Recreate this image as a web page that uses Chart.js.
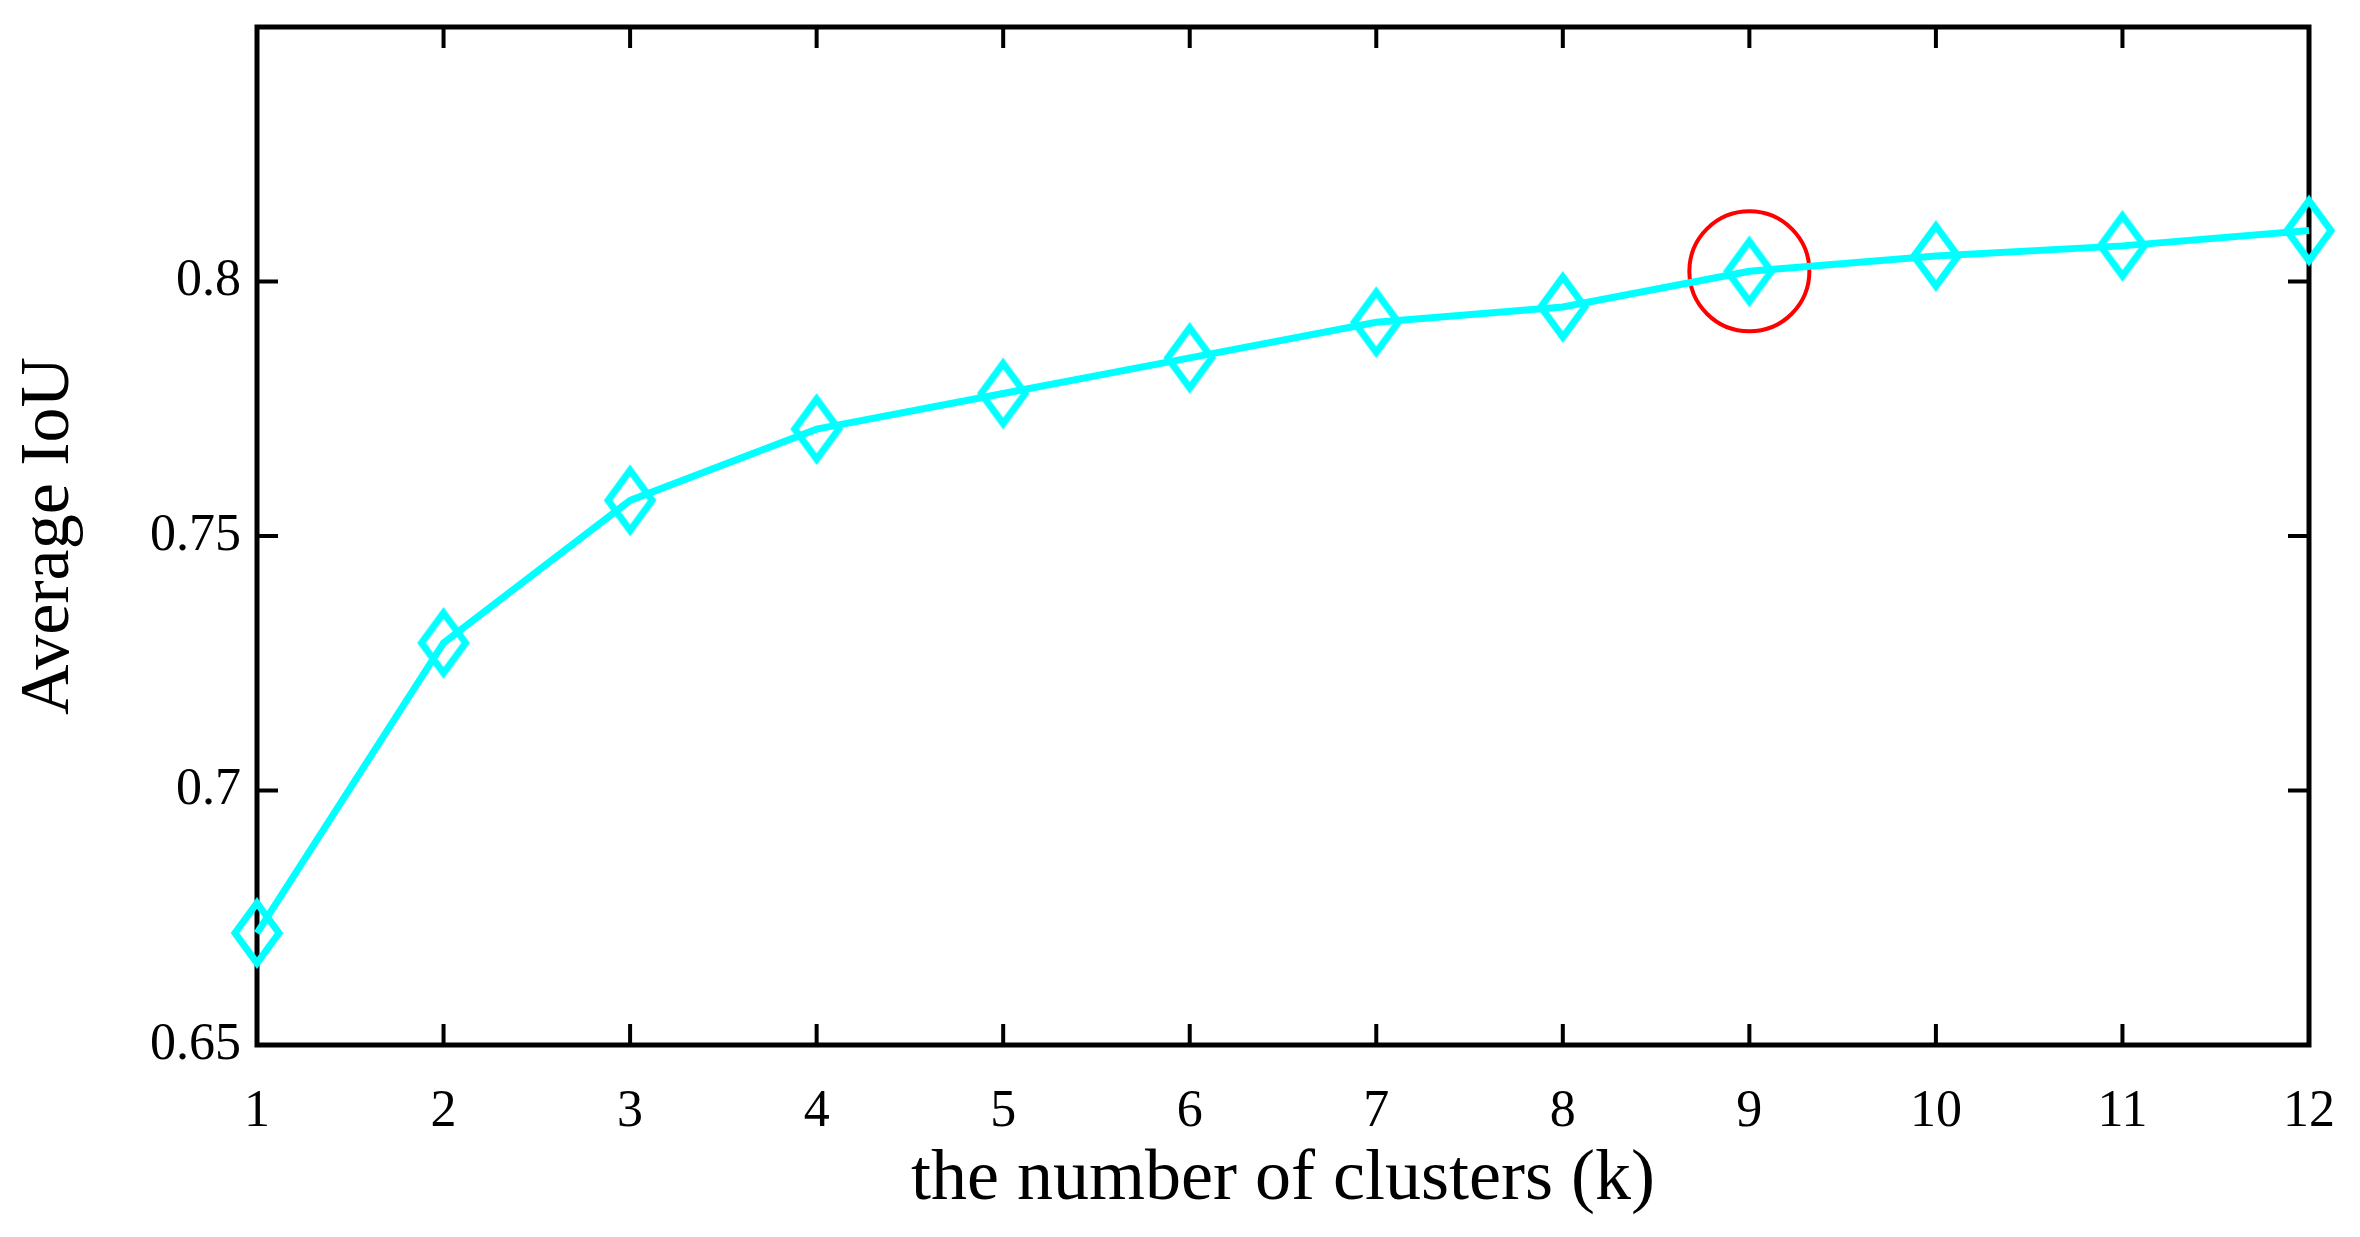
<!DOCTYPE html>
<html>
<head>
<meta charset="utf-8">
<script src="https://cdn.jsdelivr.net/npm/chart.js@4/dist/chart.umd.min.js"></script>
<style>
  html, body { margin: 0; padding: 0; background: #fff; }
  #wrap { width: 2360px; height: 1237px; }
</style>
</head>
<body>
<div id="wrap"><canvas id="chart" width="2360" height="1237"></canvas></div>
<script>
// dados
const clusters = ['1', '2', '3', '4', '5', '6', '7', '8', '9', '10', '11', '12'];
const avgIoU = [0.672, 0.729, 0.757, 0.771, 0.778, 0.785, 0.792, 0.795, 0.802, 0.805, 0.807, 0.810];
const yTicks = [0.65, 0.7, 0.75, 0.8];
const chosenK = '9';

const highlight = clusters.map((k, i) => k === chosenK ? avgIoU[i] : null);

// marcador em losango vazado (mais alto que largo, como no original)
function diamond(w, h, lw, color) {
	const c = document.createElement('canvas');
	c.width = w + lw * 2;
	c.height = h + lw * 2;
	const g = c.getContext('2d');
	const cx = c.width / 2, cy = c.height / 2;
	g.strokeStyle = color;
	g.lineWidth = lw;
	g.beginPath();
	g.moveTo(cx, cy - h / 2);
	g.lineTo(cx + w / 2, cy);
	g.lineTo(cx, cy + h / 2);
	g.lineTo(cx - w / 2, cy);
	g.closePath();
	g.stroke();
	return c;
}

// moldura e ticks para dentro nos quatro lados
const frame = {
	id: 'frame',
	beforeDatasetsDraw(chart) {
		const { ctx, chartArea: a, scales: { x, y } } = chart;
		ctx.save();
		ctx.strokeStyle = '#000';
		ctx.lineWidth = 5;
		ctx.strokeRect(a.left, a.top, a.right - a.left, a.bottom - a.top);
		ctx.lineWidth = 4;
		ctx.beginPath();
		x.ticks.forEach((t, i) => {
			const px = x.getPixelForTick(i);
			ctx.moveTo(px, a.bottom); ctx.lineTo(px, a.bottom - 21);
			ctx.moveTo(px, a.top); ctx.lineTo(px, a.top + 21);
		});
		y.ticks.forEach((t, i) => {
			const py = y.getPixelForTick(i);
			ctx.moveTo(a.left, py); ctx.lineTo(a.left + 21, py);
			ctx.moveTo(a.right, py); ctx.lineTo(a.right - 21, py);
		});
		ctx.stroke();
		ctx.restore();
	}
};

const font = 'Liberation Serif';

const data = {
	labels: clusters,
	datasets: [{
		label: 'Average IoU',
		data: avgIoU,
		borderColor: '#00ffff',
		borderWidth: 7,
		pointStyle: diamond(44, 60, 7, '#00ffff'),
		tension: 0,
		clip: false
	}, {
		label: 'k escolhido',
		data: highlight,
		showLine: false,
		pointStyle: 'circle',
		pointRadius: 60,
		pointBorderColor: '#ff0000',
		pointBorderWidth: 4,
		pointBackgroundColor: 'transparent',
		clip: false
	}]
};

const config = {
	type: 'line',
	data,
	options: {
		responsive: false,
		animation: false,
		events: [],
		layout: { autoPadding: false, padding: { top: 27, right: 51, left: 0, bottom: 0 } },
		plugins: { legend: { display: false }, tooltip: { enabled: false } },
		scales: {
			x: {
				offset: false,
				grid: { display: false },
				border: { display: false },
				ticks: { color: '#000', padding: 28, font: { family: font, size: 52 } },
				title: {
					display: true,
					text: 'the number of clusters (k)',
					color: '#000',
					padding: { top: 0, bottom: 14 },
					font: { family: font, size: 72 }
				},
				afterFit: scale => {
					scale.height = 192
					scale.paddingLeft = 0
					scale.paddingRight = 0
				}
			},
			y: {
				min: 0.65,
				max: 0.85,
				grid: { display: false },
				border: { display: false },
				afterBuildTicks: scale => { scale.ticks = yTicks.map(v => ({ value: v })) },
				ticks: {
					color: '#000',
					padding: 8,
					font: { family: font, size: 52 },
					callback: v => String(v)
				},
				title: {
					display: true,
					text: 'Average IoU',
					color: '#000',
					padding: { top: 8, bottom: 0 },
					font: { family: font, size: 70 }
				},
				afterFit: scale => {
					scale.width = 257
					scale.paddingTop = 0
					scale.paddingBottom = 0
				}
			}
		}
	},
	plugins: [frame]
};

new Chart(document.getElementById('chart'), config);
</script>
</body>
</html>
